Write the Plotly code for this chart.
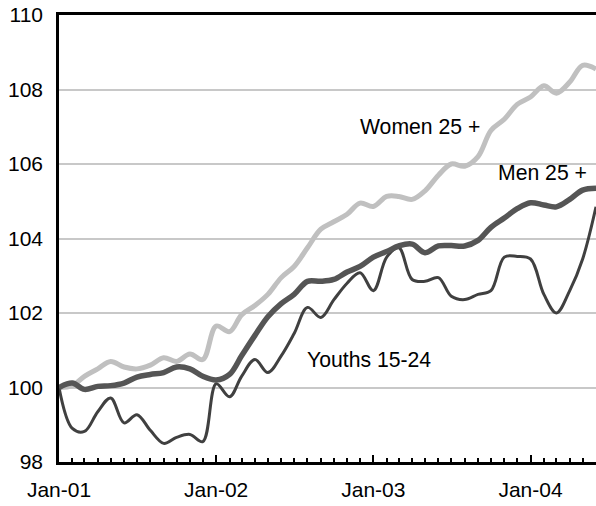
import pandas as pd
import plotly.graph_objects as go

# months Jan-01 .. Jun-04
months = pd.date_range("2001-01-01", "2004-06-01", freq="MS")

women_25 = [
    100.0, 100.05, 100.3, 100.5, 100.7, 100.55, 100.5, 100.6, 100.8, 100.7,
    100.9, 100.75, 101.65, 101.5, 101.95, 102.2, 102.5, 102.95, 103.25, 103.75,
    104.25, 104.45, 104.65, 104.95, 104.86, 105.13, 105.13, 105.05, 105.28, 105.7,
    106.0, 105.94, 106.2, 106.9, 107.2, 107.6, 107.8, 108.1, 107.9, 108.2,
    108.65, 108.55,
]
men_25 = [
    100.0, 100.12, 99.95, 100.03, 100.05, 100.12, 100.28, 100.35, 100.4, 100.55,
    100.5, 100.3, 100.2, 100.35, 100.85, 101.4, 101.9, 102.25, 102.5, 102.85,
    102.85, 102.9, 103.1, 103.25, 103.5, 103.65, 103.8, 103.85, 103.62, 103.8,
    103.81, 103.8, 103.95, 104.3, 104.55, 104.8, 104.96, 104.9, 104.85, 105.05,
    105.3, 105.35,
]
youths = [
    100.0, 98.9, 98.82, 99.35, 99.72, 99.05, 99.27, 98.85, 98.5, 98.66,
    98.74, 98.55, 100.1, 99.75, 100.3, 100.75, 100.4, 100.85, 101.45, 102.15,
    101.88, 102.35, 102.8, 103.08, 102.6, 103.5, 103.75, 102.9, 102.85, 102.95,
    102.45, 102.36, 102.5, 102.6, 103.5, 103.52, 103.45, 102.5, 102.0, 102.6,
    103.45, 104.85,
]

year_ticks = ["2001-01-01", "2002-01-01", "2003-01-01", "2004-01-01"]
year_labels = ["Jan-01", "Jan-02", "Jan-03", "Jan-04"]

font = "Liberation Sans, Arial, sans-serif"

fig = go.Figure()
fig.add_trace(go.Scatter(x=months, y=women_25, mode="lines", name="Women 25 +",
                         line=dict(color="#C0C0C0", width=5, shape="spline")))
fig.add_trace(go.Scatter(x=months, y=youths, mode="lines", name="Youths 15-24",
                         line=dict(color="#404040", width=3, shape="spline")))
fig.add_trace(go.Scatter(x=months, y=men_25, mode="lines", name="Men 25 +",
                         line=dict(color="#555555", width=5.5, shape="spline")))

# series labels
lab_font = dict(size=21.2)
fig.add_annotation(x="2003-04-20", y=107.0, text="Women 25 +", showarrow=False, font=lab_font)
fig.add_annotation(x="2004-01-28", y=105.77, text="Men 25 +", showarrow=False, font=lab_font)
fig.add_annotation(x="2002-12-22", y=100.75, text="Youths 15-24", showarrow=False, font=lab_font)

fig.update_layout(
    width=596, height=506,
    margin=dict(l=59, r=0, t=15, b=44),
    paper_bgcolor="white", plot_bgcolor="white",
    showlegend=False,
    font=dict(family=font, size=21, color="black"),
)
fig.update_xaxes(
    range=["2001-01-01", "2004-06-01"],
    tickvals=year_ticks, ticktext=year_labels,
    ticks="inside", ticklen=7, tickwidth=1.5, tickcolor="black",
    minor=dict(dtick="M1", ticks="inside", ticklen=4, tickwidth=1.5, tickcolor="black", showgrid=False),
    showline=True, linecolor="black", linewidth=2.5, mirror=True,
    showgrid=False, zeroline=False, ticklabelstandoff=7,
)
fig.update_yaxes(
    range=[98, 110], dtick=2,
    showline=True, linecolor="black", linewidth=2.5,
    showgrid=True, gridcolor="#C8C8C8", gridwidth=1.5,
    zeroline=False, ticks="", ticklabelstandoff=9, ticklabeloverflow="allow",
)

# drop the default page margin so the figure sits at the window's corner
fig.write_html("out.html", config={"displayModeBar": False},
               post_script="document.body.style.margin='0';")
